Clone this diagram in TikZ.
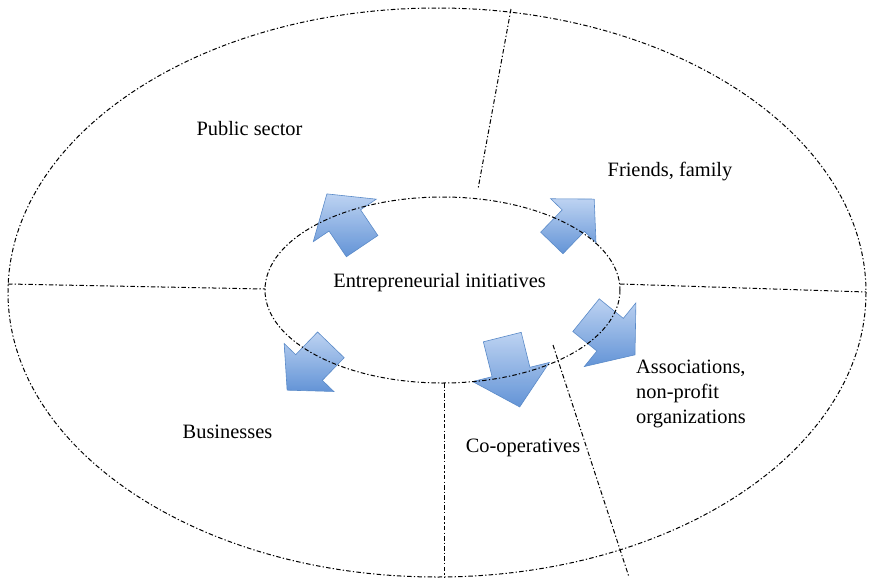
\documentclass[tikz,border=0pt]{standalone}
\usepackage{fontspec}
\setmainfont{Liberation Serif}
\definecolor{arrowtop}{HTML}{B6CEF0}
\definecolor{arrowbot}{HTML}{5288D2}
\definecolor{arrowedge}{HTML}{5A8AC8}
\begin{document}
\begin{tikzpicture}[x=1pt,y=-1pt,
  dashdot/.style={line width=1pt,dash pattern=on 4.5pt off 2.2pt on 1.3pt off 2.2pt},
  arrowstyle/.style={draw=arrowedge,line width=0.6pt,top color=arrowtop,bottom color=arrowbot,fill opacity=0.9,line join=miter},
  lbl/.style={font=\fontsize{20.4}{25}\selectfont,inner sep=0pt}]
\useasboundingbox (0,0) rectangle (873,579);
\newcommand\lp[2]{({\cx+(#1)*\ca+(#2)*\sa},{\cy-(#1)*\sa+(#2)*\ca})}
\newcommand\myarrow[7]{%
  \def\cx{#1}\def\cy{#2}%
  \pgfmathsetmacro\ca{cos(#3)}\pgfmathsetmacro\sa{sin(#3)}%
  \pgfmathsetmacro\la{-(#4)/2}\pgfmathsetmacro\lb{(#4)/2-(#7)}\pgfmathsetmacro\lc{(#4)/2}%
  \pgfmathsetmacro\hw{(#6)/2}\pgfmathsetmacro\hh{(#5)/2}%
  \path[arrowstyle] \lp{\la}{\hw} -- \lp{\lb}{\hw} -- \lp{\lb}{\hh} -- \lp{\lc}{0}
    -- \lp{\lb}{-\hh} -- \lp{\lb}{-\hw} -- \lp{\la}{-\hw} -- cycle;}
% arrows
\myarrow{344.5}{220}{124}{63}{76}{38}{32}
\myarrow{573}{221}{46}{61}{63}{31}{30}
\myarrow{610.5}{335}{-39}{63}{82}{42}{32}
\myarrow{511}{372}{-76}{72}{79}{39}{36}
\myarrow{309}{367.5}{-134}{63}{69}{37}{31.5}
% ellipses
\coordinate (outer) at (437,292.5);
\coordinate (inner) at (442.5,290);
\draw[dashdot] (outer) ellipse [x radius=429,y radius=284.5];
\draw[dashdot] (inner) ellipse [x radius=177.5,y radius=93];
% dividers
\coordinate (t1) at (511,9);   \coordinate (t2) at (478,189);
\coordinate (l1) at (8,284);   \coordinate (l2) at (265,289);
\coordinate (r1) at (620,284); \coordinate (r2) at (866,292);
\coordinate (b1) at (444,383); \coordinate (b2) at (444,577);
\coordinate (d1) at (553,345); \coordinate (d2) at (629,577);
\draw[dashdot] (t1) -- (t2);
\draw[dashdot] (l1) -- (l2);
\draw[dashdot] (r1) -- (r2);
\draw[dashdot] (b1) -- (b2);
\draw[dashdot] (d1) -- (d2);
% labels
\node[lbl] (pub) at (249.5,129) {Public sector};
\node[lbl] (fri) at (670,172) {Friends, family};
\node[lbl] (ent) at (439.5,283) {Entrepreneurial initiatives};
\node[lbl,anchor=north west,align=left] (ass) at (636,360) {Associations,\\non-profit\\organizations};
\node[lbl] (bus) at (227.5,432) {Businesses};
\node[lbl] (coo) at (523,448) {Co-operatives};
\end{tikzpicture}
\end{document}
